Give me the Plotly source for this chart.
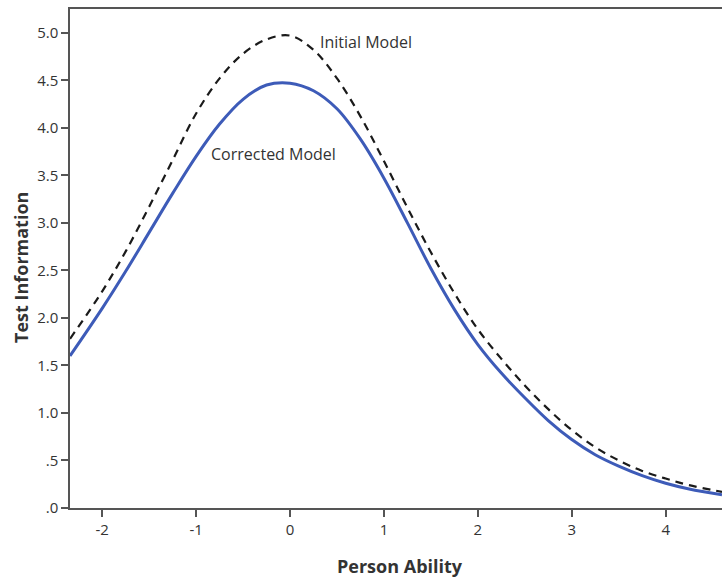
import plotly.graph_objects as go

# Person ability grid (logits)
ability = [-2.343, -2.0, -1.75, -1.5, -1.25, -1.0, -0.75, -0.5, -0.25, 0.0,
           0.25, 0.5, 0.75, 1.0, 1.25, 1.5, 1.75, 2.0, 2.25, 2.5, 2.75, 3.0,
           3.25, 3.5, 3.75, 4.0, 4.25, 4.6]

# Test information curves
initial_model = [1.78, 2.28, 2.70, 3.17, 3.66, 4.15, 4.52, 4.78, 4.93, 4.97,
                 4.82, 4.52, 4.12, 3.65, 3.16, 2.69, 2.26, 1.88, 1.57, 1.29, 1.04, 0.82,
                 0.64, 0.50, 0.39, 0.31, 0.24, 0.17]
corrected_model = [1.60, 2.10, 2.49, 2.90, 3.31, 3.70, 4.04, 4.30, 4.45, 4.47,
                   4.39, 4.20, 3.88, 3.47, 3.00, 2.52, 2.09, 1.72, 1.42, 1.16, 0.92, 0.72,
                   0.56, 0.44, 0.34, 0.26, 0.20, 0.14]

x_ticks = [-2, -1, 0, 1, 2, 3, 4]
x_tick_text = ["-2", "-1", "0", "1", "2", "3", "4"]
y_ticks = [0, 0.5, 1.0, 1.5, 2.0, 2.5, 3.0, 3.5, 4.0, 4.5, 5.0]
y_tick_text = [".0", ".5", "1.0", "1.5", "2.0", "2.5", "3.0", "3.5", "4.0", "4.5", "5.0"]

FONT = "Open Sans"
AXIS_COLOR = "#555555"
TEXT_COLOR = "#333333"

fig = go.Figure()
fig.add_trace(go.Scatter(
    x=ability, y=initial_model, mode="lines", name="Initial Model",
    line=dict(color="#1a1a1a", width=2.2, dash="8px,6px", shape="spline", smoothing=1.0),
))
fig.add_trace(go.Scatter(
    x=ability, y=corrected_model, mode="lines", name="Corrected Model",
    line=dict(color="#3d5bb8", width=3, shape="spline", smoothing=1.0),
))

plot_w = 722 - 70
plot_h = 581 - 9 - 73

fig.update_layout(
    width=722, height=581,
    margin=dict(l=70, r=0, t=9, b=73),
    plot_bgcolor="white", paper_bgcolor="white",
    showlegend=False,
    font=dict(family=FONT, size=15, color=TEXT_COLOR),
    xaxis=dict(
        range=[-2.343, 4.6], tickvals=x_ticks, ticktext=x_tick_text, ticks="outside",
        ticklen=7, tickwidth=1.5, tickcolor=AXIS_COLOR, showline=True,
        linecolor=AXIS_COLOR, linewidth=1.5, mirror=True, showgrid=False,
        zeroline=False, tickfont=dict(family=FONT, size=15, color=TEXT_COLOR),
    ),
    yaxis=dict(
        range=[0, 5.25], tickvals=y_ticks, ticktext=y_tick_text, ticks="outside",
        ticklen=7, tickwidth=1.5, tickcolor=AXIS_COLOR, showline=True,
        linecolor=AXIS_COLOR, linewidth=1.5, showgrid=False, zeroline=False,
        tickfont=dict(family=FONT, size=15, color=TEXT_COLOR),
    ),
    annotations=[
        dict(text="Initial Model", x=0.30, y=4.90, xref="x", yref="y",
             xanchor="left", yanchor="middle", showarrow=False,
             font=dict(family=FONT, size=16, color=TEXT_COLOR)),
        dict(text="Corrected Model", x=-0.86, y=3.72, xref="x", yref="y",
             xanchor="left", yanchor="middle", showarrow=False,
             font=dict(family=FONT, size=16, color=TEXT_COLOR)),
        dict(text="<b>Person Ability</b>", x=(400 - 70) / plot_w, y=(508 - 566) / plot_h,
             xref="paper", yref="paper", xanchor="center", yanchor="middle",
             showarrow=False, font=dict(family=FONT, size=18, color=TEXT_COLOR)),
        dict(text="<b>Test Information</b>", textangle=-90,
             x=(21 - 70) / plot_w, y=(508 - 268) / plot_h,
             xref="paper", yref="paper", xanchor="center", yanchor="middle",
             showarrow=False, font=dict(family=FONT, size=18, color=TEXT_COLOR)),
    ],
)

fig.write_html("out.html")
